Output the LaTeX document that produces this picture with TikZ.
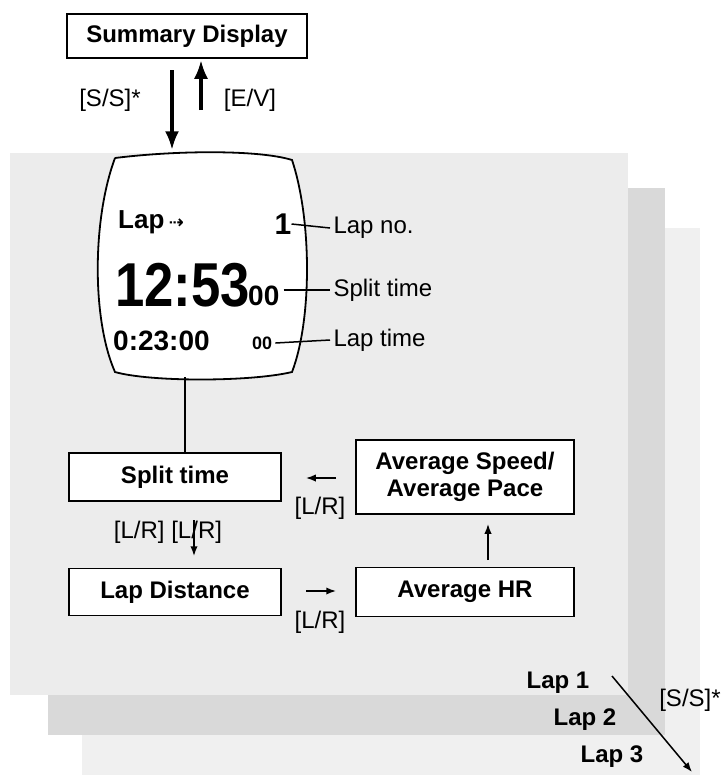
\documentclass[tikz,border=0pt]{standalone}
\usepackage{fontspec}
\setmainfont{Liberation Sans}
\newfontfamily\symfont{DejaVu Sans}
\usetikzlibrary{arrows.meta}
\usetikzlibrary{calc}

\begin{document}
\begin{tikzpicture}[x=1pt,y=-1pt,>/.tip={Latex},
	box/.style={draw,line width=1.8pt,fill=white,font=\fontsize{24}{27}\selectfont\bfseries,align=center,inner sep=2pt},
	lbl/.style={font=\fontsize{24}{26}\selectfont},
	lap/.style={font=\fontsize{24}{26}\selectfont\bfseries},
	lcd/.style={inner sep=0pt}]
	\useasboundingbox (0,0) rectangle (724,782);
	% stacked pages
	\fill[gray!12] (82,228) rectangle (700,775);
	\fill[gray!30] (48,188) rectangle (665,735);
	\fill[gray!15] (10,153) rectangle (628,695);
	\draw (187,36) node (sum) [box,minimum width=240,minimum height=44] {Summary Display};
	\coordinate (d1) at (172,70);
	\coordinate (d2) at (172,150);
	\coordinate (u1) at (201,110);
	\coordinate (u2) at (201,60);
	\draw[->,line width=3.5pt] (d1) -- (d2);
	\draw[->,line width=3.5pt] (u1) -- (u2);
	\node [lbl] at (110,100) {[S/S]*};
	\node [lbl] at (250,100) {[E/V]};
	% watch face
	\draw[line width=1.8pt,fill=white] (115,158) .. controls (180,150) and (260,150) .. (292,160)
		.. controls (312,220) and (312,320) .. (292,372)
		.. controls (250,382) and (150,382) .. (115,372)
		.. controls (92,320) and (92,220) .. (115,158);
	\node (lapno) [lcd,font=\fontsize{26}{26}\selectfont\bfseries,anchor=west] at (118,222) {Lap\,{\symfont\fontsize{18}{18}\selectfont ⇢}};
	\node (one) [lcd,font=\fontsize{30}{30}\selectfont\bfseries] at (283,224) {1};
	\node (split) [lcd,font=\fontsize{62}{62}\selectfont\bfseries,anchor=west,xscale=0.85] at (115,285) {12:53};
	\node (splitcs) [lcd,font=\fontsize{28}{28}\selectfont\bfseries,anchor=west] at (248,296) {00};
	\node (laptime) [lcd,font=\fontsize{28}{28}\selectfont\bfseries,anchor=west] at (113,341) {0:23:00};
	\node (lapcs) [lcd,font=\fontsize{18}{18}\selectfont\bfseries,anchor=west] at (252,343) {00};
	\node (tlap) [lbl,anchor=west] at (330,228) {Lap no.};
	\node (tsplit) [lbl,anchor=west] at (330,290) {Split time};
	\node (tlapt) [lbl,anchor=west] at (330,340) {Lap time};
	\draw[line width=1.5pt] (one.east) -- (tlap.west);
	\draw[line width=1.5pt] ([xshift=4pt]splitcs.east |- tsplit.west) -- (tsplit.west);
	\draw[line width=1.5pt] ([xshift=3pt]lapcs.east) -- (tlapt.west);
	\coordinate (wb) at (185,377);
	% menu boxes
	\draw (175,477) node (st) [box,minimum width=212,minimum height=48] {Split time};
	\draw (465,477) node (avs) [box,minimum width=218,minimum height=74] {Average Speed/\\Average Pace};
	\draw (175,592) node (ld) [box,minimum width=212,minimum height=47] {Lap Distance};
	\draw (465,592) node (ahr) [box,minimum width=218,minimum height=49] {Average HR};
	\draw[line width=1.5pt] (wb) -- (st.north -| wb);
	\draw[->,line width=1.5pt] (336,478) -- (306,478);
	\draw[->,line width=1.5pt] (306,591) -- (336,591);
	\draw[->,line width=1.5pt] (194,520) -- (194,556);
	\draw[->,line width=1.5pt] (488,560) -- (488,524);
	\node [lbl] at (320,508) {[L/R]};
	\node [lbl] at (320,622) {[L/R]};
	\node [lbl] at (168,532) {[L/R] [L/R]};
	% laps
	\node [lap] at (558,683) {Lap 1};
	\node [lap] at (585,720) {Lap 2};
	\node [lap] at (612,757) {Lap 3};
	\coordinate (s1) at (612,676);
	\coordinate (s2) at (692,772);
	\draw[->,line width=1.5pt] (s1) -- (s2);
	\node [lbl] at (690,700) {[S/S]*};
\end{tikzpicture}
\end{document}
